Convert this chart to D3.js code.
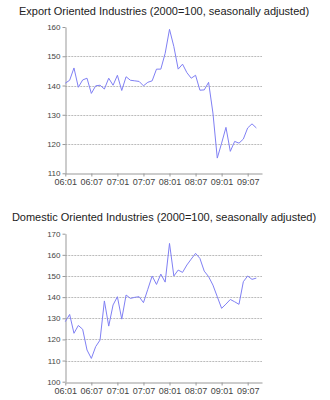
<!DOCTYPE html>
<html>
<head>
<meta charset="utf-8">
<script src="https://cdn.jsdelivr.net/npm/d3@7"></script>
<style>
body { margin: 0; background: #fff; }
svg { display: block; }
.title { font-family: "Liberation Sans", Arial, sans-serif; font-size: 11px; fill: #222; }
.axis text { font-family: "Liberation Sans", Arial, sans-serif; fill: #444; }
.axis path, .axis line { stroke: #999; }
.grid line { stroke: #bbb; stroke-dasharray: 2,1; }
.series { fill: none; stroke: #8080f4; stroke-width: 1; }
</style>
</head>
<body>
<div id="chart"></div>
<script>

var WIDTH = 330;
var HEIGHT = 400;

// months 06:01 .. 09:09
var months = [];
for (var yr = 6; yr <= 9; yr++) {
	for (var m = 1; m <= 12; m++) {
		months.push('0' + yr + ':' + (m < 10 ? '0' + m : m));
	}
}
months = months.slice(0, 45);

var xTicks = ['06:01', '06:07', '07:01', '07:07', '08:01', '08:07', '09:01', '09:07'];

var exportTitle = 'Export Oriented Industries (2000=100, seasonally adjusted)';
var exportValues = [140.8, 141.8, 146.0, 139.4, 141.9, 142.5, 137.3, 139.9, 140.1, 138.8,
	142.5, 140.1, 143.5, 138.3, 143.0, 141.8, 141.6, 141.4, 139.9, 141.1,
	141.6, 145.6, 145.6, 151.0, 159.2, 153.3, 145.6, 147.3, 144.4, 142.5,
	143.5, 138.4, 138.5, 141.1, 130.6, 115.2, 120.3, 125.7, 117.5, 120.9,
	120.3, 121.7, 125.5, 126.9, 125.5];
var exportTicks = [110, 120, 130, 140, 150, 160];

var domesticTitle = 'Domestic Oriented Industries (2000=100, seasonally adjusted)';
var domesticValues = [128.4, 131.8, 122.9, 126.6, 124.8, 115.0, 111.0, 116.6, 119.7, 138.2,
	126.3, 136.3, 140.2, 129.6, 141.0, 139.4, 139.9, 140.2, 137.4, 143.7,
	150.0, 146.0, 150.9, 147.1, 165.4, 150.0, 152.8, 151.7, 155.2, 158.0,
	160.7, 158.3, 152.3, 149.7, 145.7, 140.2, 134.7, 136.7, 138.9, 137.8,
	136.6, 147.3, 150.0, 148.4, 149.0];
var domesticTicks = [100, 110, 120, 130, 140, 150, 160, 170];

var svg = d3.select('#chart').append('svg')
	.attr('width', WIDTH)
	.attr('height', HEIGHT);

var x = d3.scaleLinear()
	.domain([0, 45.3])
	.range([65.3, 262]);

function drawPanel(title, values, ticks, top, bottom, titleY) {
	var y = d3.scaleLinear()
		.domain([ticks[0], ticks[ticks.length - 1]])
		.range([bottom, top]);

	svg.append('text')
		.attr('class', 'title')
		.attr('x', 164)
		.attr('y', titleY)
		.attr('text-anchor', 'middle')
		.text(title);

	// gridlines on inner ticks
	svg.append('g')
		.attr('class', 'grid')
		.selectAll('line')
		.data(ticks.slice(1, -1))
		.enter().append('line')
		.attr('x1', x.range()[0])
		.attr('x2', x.range()[1])
		.attr('y1', function(d) { return Math.round(y(d)) + 0.5; })
		.attr('y2', function(d) { return Math.round(y(d)) + 0.5; });

	var yAxis = svg.append('g')
		.attr('class', 'axis')
		.attr('transform', 'translate(' + (Math.round(x.range()[0]) + 0.5) + ',0)')
		.call(d3.axisLeft(y).tickValues(ticks).tickSize(3).tickSizeOuter(0).tickPadding(2));
	yAxis.selectAll('text').style('font-size', '8px');

	var xAxis = svg.append('g')
		.attr('class', 'axis')
		.attr('transform', 'translate(0,' + (Math.round(bottom) + 0.5) + ')')
		.call(d3.axisBottom(x)
			.tickValues(xTicks.map(function(t) { return months.indexOf(t); }))
			.tickFormat(function(i) { return months[i]; })
			.tickSize(3).tickSizeOuter(0).tickPadding(2));
	xAxis.selectAll('text').style('font-size', '9px');

	var line = d3.line()
		.x(function(d, i) { return x(i); })
		.y(function(d) { return y(d); });

	svg.append('path')
		.datum(values)
		.attr('class', 'series')
		.attr('d', line);
}

drawPanel(exportTitle, exportValues, exportTicks, 27, 173.3, 15);
drawPanel(domesticTitle, domesticValues, domesticTicks, 233.7, 381.7, 221);

</script>
</body>
</html>
